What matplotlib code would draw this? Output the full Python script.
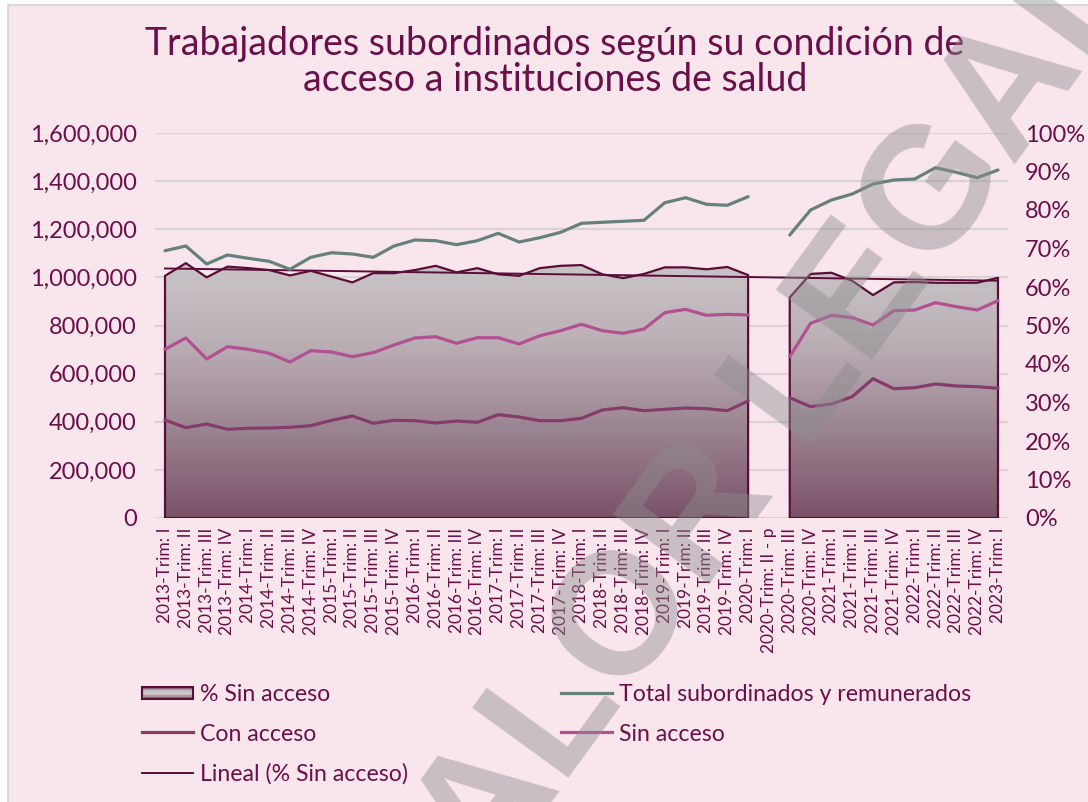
import numpy as np
import matplotlib
matplotlib.use('Agg')
import matplotlib.pyplot as plt
from matplotlib.colors import LinearSegmentedColormap
from matplotlib.patches import Rectangle, PathPatch
from matplotlib.path import Path
from matplotlib.lines import Line2D
from matplotlib.ticker import FuncFormatter
from matplotlib.legend_handler import HandlerBase

plt.rcParams['font.family'] = ['Lato', 'DejaVu Sans']

nan = np.nan

categories = []
for yr in range(2013, 2023):
    for q in ['I', 'II', 'III', 'IV']:
        if yr == 2020 and q == 'II':
            categories.append('2020-Trim: II - p')
        else:
            categories.append(f'{yr}-Trim: {q}')
categories.append('2023-Trim: I')

total = [1110800, 1130400, 1055600, 1093000, 1079200, 1066800, 1033500, 1083400,
         1102500, 1097100, 1083400, 1130400, 1155300, 1152400, 1135800, 1152400,
         1183100, 1147000, 1164900, 1187300, 1224700, 1228900, 1233000, 1237200,
         1310300, 1331100, 1303700, 1299500, 1335300, nan, 1176100, 1280000,
         1321500, 1346500, 1388000, 1404700, 1408800, 1455800, 1436600, 1414200,
         1446200]

con_acceso = [407300, 375300, 390600, 368600, 372800, 374000, 376900, 383600,
              406000, 423900, 393500, 406000, 404400, 394800, 403100, 397700,
              429300, 419700, 404400, 404400, 414300, 448800, 458400, 445900,
              451700, 457100, 454200, 445900, 486200, nan, 499900, 462600,
              473800, 504100, 578900, 537300, 541500, 556900, 548600, 545700,
              539000]

sin_acceso = [701100, 748000, 660800, 711900, 701100, 684500, 648300, 695300,
              689900, 670300, 687000, 719000, 748000, 753400, 726000, 749300,
              749300, 723100, 757600, 778400, 805000, 778400, 767600, 785400,
              853200, 867300, 842400, 846500, 843600, nan, 670300, 809100,
              842400, 832400, 802100, 861500, 864400, 894800, 878100, 864400,
              903000]

pct_sin_acceso = [0.629, 0.662, 0.625, 0.653, 0.649, 0.644, 0.630, 0.642,
                  0.627, 0.612, 0.636, 0.636, 0.644, 0.655, 0.638, 0.649,
                  0.633, 0.629, 0.649, 0.655, 0.657, 0.633, 0.623, 0.634,
                  0.651, 0.651, 0.646, 0.652, 0.631, nan, 0.573, 0.634,
                  0.637, 0.616, 0.579, 0.612, 0.613, 0.611, 0.611, 0.611,
                  0.624]

left_ticks = [0, 200000, 400000, 600000, 800000, 1000000, 1200000, 1400000, 1600000]
right_ticks = [0.0, 0.1, 0.2, 0.3, 0.4, 0.5, 0.6, 0.7, 0.8, 0.9, 1.0]

title = 'Trabajadores subordinados según su condición de\nacceso a instituciones de salud'

# colours
BG = '#f9e6ed'
TXT = '#6b0f4a'
GRID = '#d8d2d5'
EDGE = '#5a0d3a'
TEAL = '#66817c'
CON = '#853b6b'
SIN = '#b25192'

grad_cmap = LinearSegmentedColormap.from_list(
    'g', [(0.0, '#7a5268'), (0.35, '#9c8592'), (0.7, '#bcb1b7'), (1.0, '#c9c4c7')])

W, H = 1088, 802
fig = plt.figure(figsize=(W / 100, H / 100), dpi=100, facecolor='white')
fig.patches.append(Rectangle((8 / W, -0.05), 1.2, (H - 5) / H + 0.05,
                             transform=fig.transFigure, facecolor=BG,
                             edgecolor='#d4d4d4', lw=1.2, zorder=-10))

rect = [154.6 / W, (H - 518) / H, 853.8 / W, 385 / H]
x = np.arange(len(categories))

ax1 = fig.add_axes(rect)
ax1.patch.set_visible(False)
ax1.set_xlim(-0.5, len(categories) - 0.5)
ax1.set_ylim(0, 1600000)
ax1.set_yticks(left_ticks)
ax1.yaxis.set_major_formatter(FuncFormatter(lambda v, p: f'{int(v):,}'))
ax1.yaxis.grid(True, color=GRID, lw=1.6)
ax1.set_xticks(x)
ax1.set_xticklabels(categories, rotation=90, fontsize=12.5, color=TXT)
ax1.tick_params(axis='x', length=0, pad=7)
ax1.tick_params(axis='y', length=0, pad=13, labelsize=17, labelcolor=TXT)
for s in ax1.spines.values():
    s.set_visible(False)

ax2 = ax1.twinx()
ax2.patch.set_visible(False)
pct = np.array(pct_sin_acceso, dtype=float)
coll = ax2.fill_between(x, pct, 0, facecolor='none', edgecolor=EDGE, lw=1.6, zorder=3)
grad = np.linspace(0, 1, 256).reshape(-1, 1)
img = ax2.imshow(grad, extent=[-0.5, len(categories) - 0.5, 0, 0.67], aspect='auto',
                 cmap=grad_cmap, origin='lower', zorder=2)
compound = Path.make_compound_path(*coll.get_paths())
clip = PathPatch(compound, transform=ax2.transData, facecolor='none', edgecolor='none')
img.set_clip_path(clip)
valid = ~np.isnan(pct)
coef = np.polyfit(x[valid], pct[valid], 1)
ax2.plot(x, np.polyval(coef, x), color=EDGE, lw=1.4, zorder=4)
ax2.set_xlim(-0.5, len(categories) - 0.5)
ax2.set_ylim(0, 1)
ax2.set_yticks(right_ticks)
ax2.yaxis.set_major_formatter(FuncFormatter(lambda v, p: f'{int(round(v * 100))}%'))
ax2.tick_params(axis='y', length=0, pad=12, labelsize=17, labelcolor=TXT)
for s in ax2.spines.values():
    s.set_visible(False)

ax3 = ax1.twinx()
ax3.patch.set_visible(False)
ax3.set_xlim(-0.5, len(categories) - 0.5)
ax3.set_ylim(0, 1600000)
ax3.plot(x, total, color=TEAL, lw=2.3, solid_capstyle='round')
ax3.plot(x, con_acceso, color=CON, lw=2.3, solid_capstyle='round')
ax3.plot(x, sin_acceso, color=SIN, lw=2.3, solid_capstyle='round')
ax3.axis('off')

fig.text(555 / W, 1 - 62 / H, title, ha='center', va='center', fontsize=27,
         color=TXT, linespacing=1.0)


class GradHandler(HandlerBase):
    def create_artists(self, legend, orig_handle, xdescent, ydescent, width,
                       height, fontsize, trans):
        arts = []
        h = height * 0.7
        y0 = -ydescent + (height - h) / 2
        cols = ['#8a6a7c', '#a8989f', '#c4bcc0', '#cfc9cc', '#c4bcc0', '#a8989f', '#8a6a7c']
        n = len(cols)
        for i, c in enumerate(cols):
            arts.append(Rectangle((-xdescent, y0 + i * h / n), width, h / n + 0.2,
                                  facecolor=c, edgecolor='none', transform=trans))
        arts.append(Rectangle((-xdescent, y0), width, h, facecolor='none',
                              edgecolor=EDGE, lw=1.5, transform=trans))
        return arts


area_handle = Rectangle((0, 0), 1, 1)
handles = [area_handle,
           Line2D([], [], color=CON, lw=2.3),
           Line2D([], [], color=EDGE, lw=1.4),
           Line2D([], [], color=TEAL, lw=2.3),
           Line2D([], [], color=SIN, lw=2.3)]
labels = ['% Sin acceso', 'Con acceso', 'Lineal (% Sin acceso)',
          'Total subordinados y remunerados', 'Sin acceso']
fig.legend(handles, labels, loc='upper left', bbox_to_anchor=(142 / W, 1 - 684 / H),
           ncol=2, frameon=False, fontsize=16.7, labelcolor=TXT, handlelength=2.2,
           handletextpad=0.3, columnspacing=6.6, labelspacing=0.8, borderpad=0,
           borderaxespad=0, handler_map={Rectangle: GradHandler()})

fig.text(752 / W, 1 - 450 / H, 'VALOR LEGAL', rotation=54, rotation_mode='anchor',
         fontsize=124, color='#8c8d8f', alpha=0.45, ha='center', va='center',
         weight='bold', family='Liberation Sans', zorder=10)

fig.savefig('out.png', dpi=100, facecolor='white')
